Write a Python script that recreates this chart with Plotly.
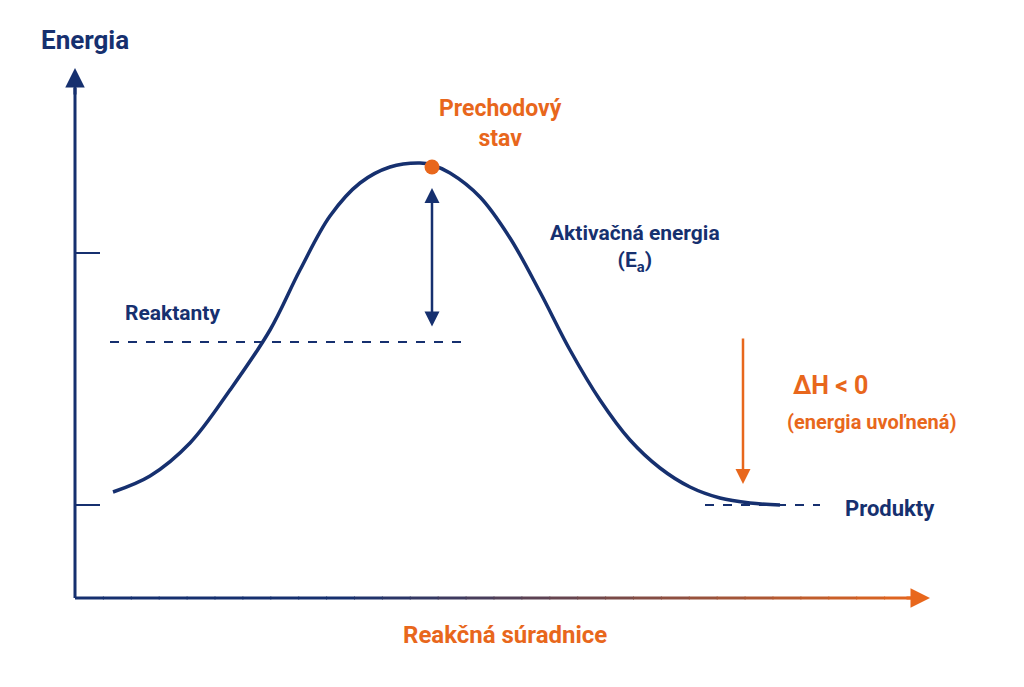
import plotly.graph_objects as go

NAVY = "#16306f"
ORANGE = "#e8671c"

# Energy curve (reaction coordinate, energy) in chart units
curve_x = [113,150,190,230,270,300,330,360,390,420,432,450,480,510,540,570,600,630,660,690,720,750,780]
curve_y = [492,476,443,390,330,270,216,183,167,163,165,173,197,238,292,350,400,440,468,487,498,503,505]
reactant_level = 342
product_level = 505
ts_x, ts_y = 432, 167
tick_levels = [253, 505]

fig = go.Figure()
fig.add_trace(go.Scatter(x=curve_x, y=curve_y, mode="lines", line=dict(color=NAVY, width=3.5, shape="spline")))
fig.add_trace(go.Scatter(x=[110, 465], y=[reactant_level]*2, mode="lines", line=dict(color=NAVY, width=2, dash="dash")))
fig.add_trace(go.Scatter(x=[705, 820], y=[product_level]*2, mode="lines", line=dict(color=NAVY, width=2, dash="dash")))
fig.add_trace(go.Scatter(x=[ts_x], y=[ts_y], mode="markers", marker=dict(color=ORANGE, size=15)))
fig.add_trace(go.Scatter(x=[75, 75], y=[598, 88], mode="lines", line=dict(color=NAVY, width=3)))
for t in tick_levels:
    fig.add_trace(go.Scatter(x=[75, 100], y=[t, t], mode="lines", line=dict(color=NAVY, width=2)))

def mix(a, b, f):
    a = [int(a[i:i+2], 16) for i in (1, 3, 5)]
    b = [int(b[i:i+2], 16) for i in (1, 3, 5)]
    return "rgb(%d,%d,%d)" % tuple(round(a[i] + (b[i]-a[i])*f) for i in range(3))
n = 30
x0, x1 = 75, 912
for i in range(n):
    xa = x0 + (x1-x0)*i/n; xb = x0 + (x1-x0)*(i+1)/n
    fig.add_trace(go.Scatter(x=[xa, xb+1], y=[598, 598], mode="lines",
                             line=dict(color=mix(NAVY, ORANGE, max(0, (i/n-0.3)/0.7)), width=3)))

for (x, y, ax, ay, c) in [(75, 68, 75, 96, NAVY), (930, 598, 905, 598, ORANGE)]:
    fig.add_annotation(x=x, y=y, ax=ax, ay=ay, xref="x", yref="y", axref="x", ayref="y",
                       showarrow=True, arrowhead=2, arrowsize=1.3, arrowwidth=3, arrowcolor=c, text="")
fig.add_annotation(x=432, y=188, ax=432, ay=328, xref="x", yref="y", axref="x", ayref="y", text="",
                   showarrow=True, arrowhead=2, startarrowhead=2, arrowside="end+start",
                   arrowsize=1.2, arrowwidth=2.5, arrowcolor=NAVY)
fig.add_annotation(x=743, y=484, ax=743, ay=337, xref="x", yref="y", axref="x", ayref="y", text="",
                   showarrow=True, arrowhead=2, arrowsize=1.2, arrowwidth=2.5, arrowcolor=ORANGE)

F = "Roboto"
def txt(x, y, s, color, size):
    fig.add_annotation(x=x, y=y, xref="x", yref="y", text="<b>%s</b>" % s,
                       showarrow=False, font=dict(family=F, size=size, color=color), align="center")
txt(85, 40, "Energia", NAVY, 26)
txt(500, 123, "Prechodový<br>stav", ORANGE, 23)
txt(635, 248, "Aktivačná energia<br>(E<sub>a</sub>)", NAVY, 21)
txt(172, 313, "Reaktanty", NAVY, 21)
txt(830, 385, "ΔH < 0", ORANGE, 25)
txt(872, 422, "(energia uvoľnená)", ORANGE, 20)
txt(890, 508, "Produkty", NAVY, 22)
txt(505, 635, "Reakčná súradnice", ORANGE, 24)

fig.update_layout(width=1024, height=687, margin=dict(l=0, r=0, t=0, b=0), showlegend=False,
                  plot_bgcolor="white", paper_bgcolor="white",
                  xaxis=dict(range=[8, 1032], visible=False),
                  yaxis=dict(range=[695, 8], visible=False))
fig.write_html("out.html")
